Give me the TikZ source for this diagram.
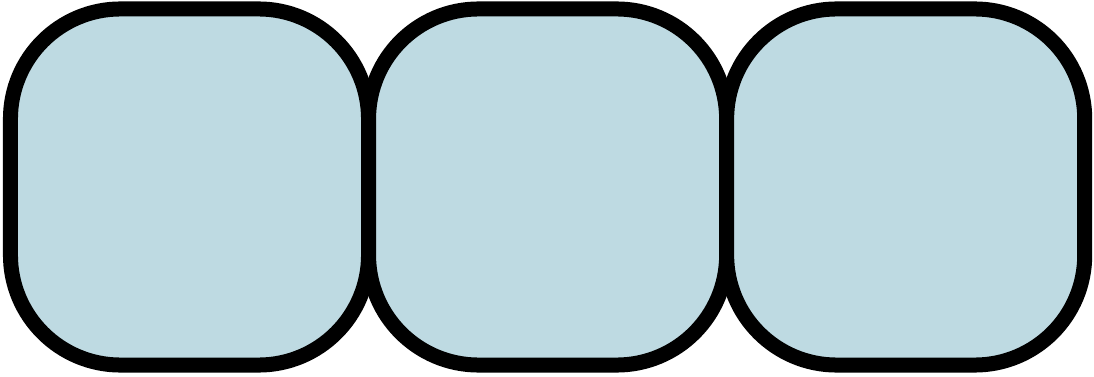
\documentclass[tikz,border=0pt]{standalone}
\usetikzlibrary{positioning}
\definecolor{cellblue}{RGB}{190,218,226}

\begin{document}
\begin{tikzpicture}[x=0.025cm, y=0.025cm, every node/.style={rectangle, draw=black, fill=cellblue, line width=0.375cm, rounded corners=2.75cm, minimum width=8.95cm, minimum height=8.9cm, outer sep=0pt, inner sep=0pt}]
        % Fix the size of the picture
        \useasboundingbox (0,0) rectangle (1094,376);

        % Draw the three cells, touching each other
        \node (C1) at (189.5,189) {};
        \node[right=0pt of C1] (C2) {};
        \node[right=0pt of C2] (C3) {};
      \end{tikzpicture}
\end{document}
